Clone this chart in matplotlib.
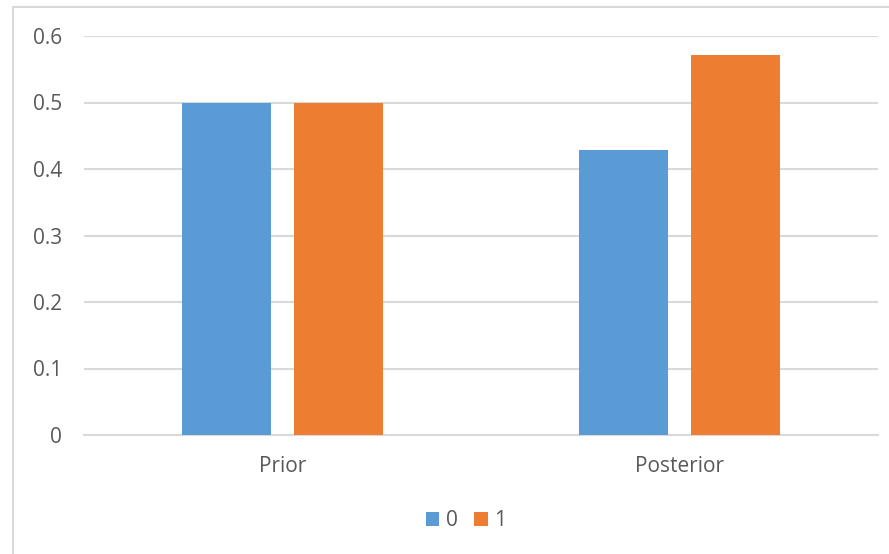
import numpy as np
import matplotlib.pyplot as plt
from matplotlib.patches import Rectangle

categories = ["Prior", "Posterior"]
series_names = ["0", "1"]
values_0 = [0.5, 0.4286]
values_1 = [0.5, 0.5714]
y_ticks = [0, 0.1, 0.2, 0.3, 0.4, 0.5, 0.6]

blue = "#5B9BD5"
orange = "#ED7D31"
grey_text = "#595959"
grid_col = "#D9D9D9"

plt.rcParams["font.family"] = ["Open Sans", "DejaVu Sans"]

fig = plt.figure(figsize=(8.89, 5.54), dpi=100)
ax = fig.add_axes([84 / 889, 1 - 435 / 554, 794 / 889, 399 / 554])

# chart frame
fig.patches.append(Rectangle((13 / 889, -0.1), 1.2, 1 - 7 / 554 + 0.1,
                             transform=fig.transFigure, fill=False,
                             edgecolor=grid_col, linewidth=1.5))

x = np.arange(len(categories))
w = 0.224
off = 0.142
ax.bar(x - off, values_0, w, color=blue, label=series_names[0], zorder=3)
ax.bar(x + off, values_1, w, color=orange, label=series_names[1], zorder=3)

ax.set_xlim(-0.5, 1.5)
ax.set_ylim(0, 0.6)
ax.set_yticks(y_ticks)
ax.set_yticklabels([f"{t:g}" for t in y_ticks])
ax.set_xticks(x)
ax.set_xticklabels(categories)
ax.yaxis.grid(True, color=grid_col, linewidth=1.5, zorder=0)
ax.set_axisbelow(True)
for s in ["top", "right", "left"]:
    ax.spines[s].set_visible(False)
ax.spines["bottom"].set_color(grid_col)
ax.spines["bottom"].set_linewidth(1.5)
ax.tick_params(axis="both", length=0, colors=grey_text, labelsize=15)
ax.tick_params(axis="y", pad=16)
ax.tick_params(axis="x", pad=15)

fig.legend(loc="center", bbox_to_anchor=(466 / 889, 1 - 521 / 554), ncol=2,
           frameon=False, fontsize=15, labelcolor=grey_text,
           handlelength=0.65, handleheight=0.65, handletextpad=0.3,
           columnspacing=0.8)

fig.savefig("out.png", dpi=100)
